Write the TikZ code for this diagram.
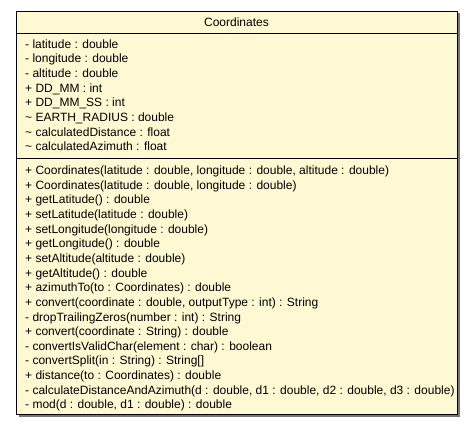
\documentclass[tikz,border=0pt]{standalone}
\usepackage{fontspec}
\setmainfont{Liberation Sans}
\definecolor{classfill}{RGB}{254,249,210}
\definecolor{classshadow}{RGB}{120,120,120}
\begin{document}
\begin{tikzpicture}[
    x=1pt, y=-1pt,
    member/.style = {anchor=base west, inner sep=0pt, font=\fontsize{12}{14}\selectfont},
    title/.style  = {anchor=base, inner sep=0pt, font=\fontsize{12}{14}\selectfont},
  ]
  \useasboundingbox (0,0) rectangle (473,427);

  \coordinate (NW) at (16,11); % linke obere Ecke
  \coordinate (SE) at (457,414); % rechte untere Ecke
  \coordinate (H1) at (16,33); % Trennlinie Kopf
  \coordinate (H2) at (457,33);
  \coordinate (T1) at (16,158); % Trennlinie Attribute
  \coordinate (T2) at (457,158);

  % Schatten und Kasten
  \fill[classshadow] (18.5,13.5) rectangle (459.5,416.5);
  \draw[fill=classfill, line width=0.8pt] (NW) rectangle (SE);
  \draw[line width=0.8pt] (H1) -- (H2);
  \draw[line width=0.8pt] (T1) -- (T2);

  % Kopf
  \node[title] (name) at (236.5,26.5) {Coordinates};

  % Attribute
  \node[member] (a1) at (25,48.3)   {- latitude : double};
  \node[member] (a2) at (25,62.95)  {- longitude : double};
  \node[member] (a3) at (25,77.6)   {- altitude : double};
  \node[member] (a4) at (25,92.25)  {+ DD\_MM : int};
  \node[member] (a5) at (25,106.9)  {+ DD\_MM\_SS : int};
  \node[member] (a6) at (25,121.55) {\textasciitilde{} EARTH\_RADIUS : double};
  \node[member] (a7) at (25,136.2)  {\textasciitilde{} calculatedDistance : float};
  \node[member] (a8) at (25,150.85) {\textasciitilde{} calculatedAzimuth : float};

  % Methoden
  \node[member] (m1)  at (25,174.5)  {+ Coordinates(latitude : double, longitude : double, altitude : double)};
  \node[member] (m2)  at (25,189.15) {+ Coordinates(latitude : double, longitude : double)};
  \node[member] (m3)  at (25,203.8)  {+ getLatitude() : double};
  \node[member] (m4)  at (25,218.45) {+ setLatitude(latitude : double)};
  \node[member] (m5)  at (25,233.1)  {+ setLongitude(longitude : double)};
  \node[member] (m6)  at (25,247.75) {+ getLongitude() : double};
  \node[member] (m7)  at (25,262.4)  {+ setAltitude(altitude : double)};
  \node[member] (m8)  at (25,277.05) {+ getAltitude() : double};
  \node[member] (m9)  at (25,291.7)  {+ azimuthTo(to : Coordinates) : double};
  \node[member] (m10) at (25,306.35) {+ convert(coordinate : double, outputType : int) : String};
  \node[member] (m11) at (25,321.0)  {- dropTrailingZeros(number : int) : String};
  \node[member] (m12) at (25,335.65) {+ convert(coordinate : String) : double};
  \node[member] (m13) at (25,350.3)  {- convertIsValidChar(element : char) : boolean};
  \node[member] (m14) at (25,364.95) {- convertSplit(in : String) : String[]};
  \node[member] (m15) at (25,379.6)  {+ distance(to : Coordinates) : double};
  \node[member] (m16) at (25,394.25) {- calculateDistanceAndAzimuth(d : double, d1 : double, d2 : double, d3 : double)};
  \node[member] (m17) at (25,408.9)  {- mod(d : double, d1 : double) : double};

\end{tikzpicture}
\end{document}
